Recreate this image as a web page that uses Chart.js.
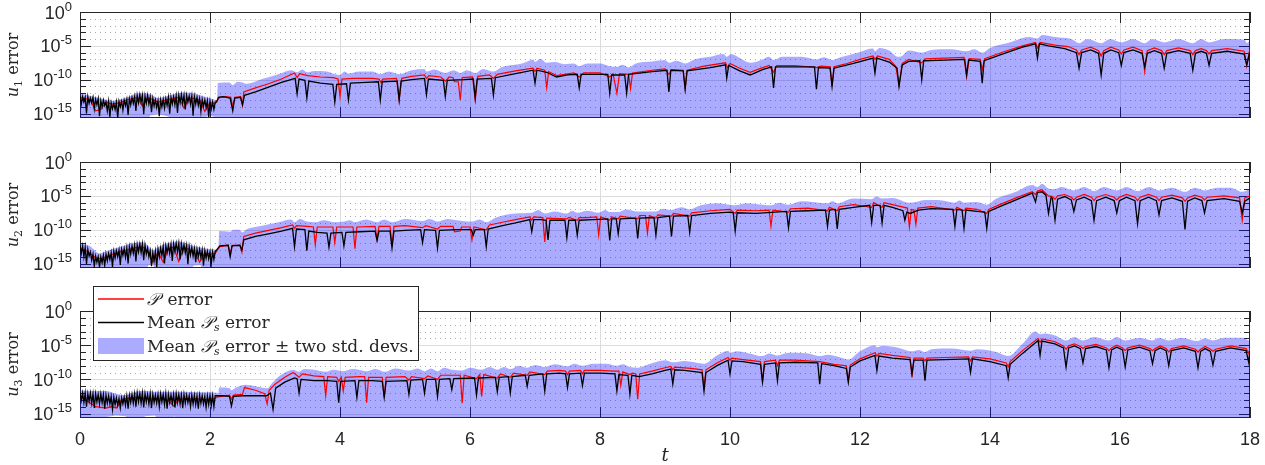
<!DOCTYPE html>
<html>
<head>
<meta charset="utf-8">
<title>Error growth of u1, u2, u3</title>
<script src="https://cdn.jsdelivr.net/npm/chart.js@4.4.1/dist/chart.umd.min.js"></script>
<style>
  html, body { margin: 0; padding: 0; background: #ffffff; }
  #wrap { position: relative; width: 1265px; height: 465px; }
  #wrap canvas { position: absolute; left: 0; top: 0; }
</style>
</head>
<body>
<div id="wrap">
  <canvas id="panel1" width="1265" height="465"></canvas>
  <canvas id="panel2" width="1265" height="465"></canvas>
  <canvas id="panel3" width="1265" height="465"></canvas>
</div>
<script>
// ---- axis ticks -------------------------------------------------------
const tTicks = [0, 2, 4, 6, 8, 10, 12, 14, 16, 18];
const decadeExps = [0, -1, -2, -3, -4, -5, -6, -7, -8, -9, -10, -11, -12, -13, -14, -15];
const yLabelExps = [0, -5, -10, -15];
const Y_MIN = 2.220446049250313e-16;   // eps
const Y_MAX = 1;

// Early times are sampled on a uniform grid (step in t); all values are log10 of the error.
const NOISE_STEP_MEAN = 0.02;
const NOISE_STEP_P = 0.08;

// ---- u1 ---------------------------------------------------------------
const u1MeanEarly = [-12.4,-13.6,-12.5,-13.3,-12.6,-15.0,-12.5,-13.5,-12.7,-13.4,-12.6,-14.3,-12.9,-13.7,-12.8,-15.4,-13.1,-14.0,-13.0,-13.8,-13.3,-14.6,-13.2,-15.5,-13.4,-14.3,-13.5,-14.4,-13.3,-15.6,-13.2,-14.0,-13.2,-14.5,-13.0,-13.8,-12.9,-15.2,-12.8,-13.7,-12.6,-13.5,-12.5,-14.6,-12.3,-13.4,-12.2,-13.3,-12.3,-15.1,-12.4,-13.5,-12.3,-13.6,-12.6,-14.8,-12.8,-13.9,-13.0,-14.1,-13.1,-15.4,-13.0,-14.0,-12.9,-14.2,-12.8,-13.8,-12.6,-15.0,-12.6,-13.6,-12.5,-13.7,-12.4,-14.9,-12.3,-13.4,-12.2,-13.5,-12.3,-14.4,-12.3,-13.3,-12.4,-13.6,-12.4,-15.3,-12.5,-13.6,-12.6,-13.8,-12.8,-14.7,-12.9,-13.9,-13.0,-14.1,-13.1,-15.5,-13.2,-14.3,-13.3,-14.4,-13.3];
const u1PEarly = [-12.6,-12.8,-13.0,-14.6,-14.4,-13.3,-13.6,-13.5,-13.3,-13.0,-12.8,-12.6,-13.9,-12.7,-12.9,-13.3,-13.1,-12.9,-12.8,-12.6,-14.2,-12.7,-12.8,-13.0,-14.7,-13.4,-13.5];
const u1Mean = [[2.10,-13.3],[2.13,-12.6],[2.2,-12.5],[2.31,-12.7],[2.35,-14.6],[2.38,-12.7],[2.47,-12.6],[2.50,-13.7],[2.53,-12.3],[2.7,-11.8],[2.9,-11.1],[3.1,-10.4],[3.31,-9.8],[3.34,-12.1],[3.37,-9.9],[3.46,-10.1],[3.49,-12.7],[3.52,-10.2],[3.7,-10.5],[3.89,-10.7],[3.92,-13.3],[3.95,-10.7],[4.1,-10.6],[4.13,-13.0],[4.16,-10.5],[4.4,-10.4],[4.59,-10.3],[4.62,-13.0],[4.65,-10.3],[4.88,-10.2],[4.91,-13.0],[4.94,-10.2],[5.1,-10.0],[5.3,-9.8],[5.33,-12.2],[5.36,-9.9],[5.59,-10.1],[5.62,-12.5],[5.65,-10.1],[5.9,-10.0],[6.05,-9.9],[6.08,-12.7],[6.11,-9.9],[6.33,-9.8],[6.36,-12.3],[6.39,-9.7],[6.7,-9.1],[6.97,-8.6],[7.0,-10.5],[7.03,-8.6],[7.18,-8.9],[7.33,-9.6],[7.5,-9.3],[7.65,-9.2],[7.68,-11.2],[7.71,-9.2],[8.12,-9.2],[8.15,-12.0],[8.18,-9.3],[8.38,-9.3],[8.41,-12.0],[8.44,-9.2],[8.8,-8.8],[9.03,-8.6],[9.06,-11.8],[9.09,-8.6],[9.28,-8.7],[9.31,-11.4],[9.34,-8.7],[9.7,-8.2],[9.93,-7.8],[9.95,-9.75],[9.98,-7.9],[10.15,-8.7],[10.31,-9.3],[10.5,-8.5],[10.64,-8.1],[10.67,-11.2],[10.7,-8.1],[11.3,-8.1],[11.33,-11.4],[11.36,-8.2],[11.54,-8.3],[11.57,-11.0],[11.6,-8.3],[11.9,-7.6],[12.2,-6.8],[12.23,-9.0],[12.26,-6.8],[12.45,-7.4],[12.57,-8.3],[12.6,-11.0],[12.65,-7.8],[12.75,-7.3],[12.92,-7.2],[12.95,-10.0],[12.98,-7.2],[13.3,-7.1],[13.61,-7.0],[13.64,-9.3],[13.67,-7.1],[13.85,-7.3],[13.88,-10.5],[13.91,-7.2],[14.2,-6.2],[14.5,-5.2],[14.7,-4.7],[14.73,-6.8],[14.76,-4.7],[14.9,-5.0],[15.15,-5.4],[15.33,-6.0],[15.37,-8.3],[15.41,-6.0],[15.55,-5.6],[15.67,-6.1],[15.71,-9.3],[15.75,-6.1],[15.86,-5.6],[15.98,-6.0],[16.02,-7.9],[16.06,-6.0],[16.2,-5.6],[16.34,-6.1],[16.38,-8.1],[16.42,-6.1],[16.53,-5.7],[16.64,-6.1],[16.68,-8.3],[16.72,-6.1],[16.9,-5.7],[17.08,-6.1],[17.12,-8.6],[17.16,-6.1],[17.25,-5.8],[17.33,-6.1],[17.37,-7.9],[17.41,-6.1],[17.65,-5.8],[17.91,-6.2],[17.95,-7.8],[17.99,-6.2],[18.0,-6.0]];
const u1P = [[2.10,-13.2],[2.15,-12.6],[2.25,-12.5],[2.32,-12.6],[2.35,-14.0],[2.38,-12.6],[2.47,-12.5],[2.50,-13.8],[2.52,-11.8],[2.7,-11.2],[2.9,-10.6],[3.1,-9.9],[3.3,-9.0],[3.34,-9.7],[3.38,-9.1],[3.5,-9.4],[3.7,-9.6],[3.9,-9.7],[3.97,-9.9],[4.0,-12.5],[4.03,-9.9],[4.2,-9.8],[4.5,-9.8],[4.6,-9.9],[4.63,-10.4],[4.66,-9.9],[4.87,-9.8],[4.91,-13.0],[4.95,-9.8],[5.1,-9.5],[5.3,-9.3],[5.33,-9.8],[5.37,-9.4],[5.55,-9.6],[5.62,-10.2],[5.68,-9.6],[5.74,-9.7],[5.76,-10.3],[5.82,-10.3],[5.85,-13.0],[5.88,-9.7],[6.04,-9.6],[6.08,-13.0],[6.12,-9.5],[6.3,-9.3],[6.36,-9.8],[6.42,-9.2],[6.7,-8.7],[6.97,-8.3],[7.0,-8.8],[7.03,-8.3],[7.15,-8.6],[7.18,-11.2],[7.21,-8.8],[7.33,-9.4],[7.6,-9.0],[7.68,-9.6],[7.75,-9.0],[8.0,-9.0],[8.15,-9.6],[8.2,-9.1],[8.26,-12.0],[8.3,-9.1],[8.44,-9.2],[8.47,-11.3],[8.5,-9.0],[8.8,-8.6],[9.0,-8.4],[9.06,-9.2],[9.1,-8.5],[9.28,-8.6],[9.31,-11.3],[9.34,-8.6],[9.6,-8.0],[9.93,-7.5],[9.96,-8.2],[10.0,-7.6],[10.15,-8.3],[10.31,-8.9],[10.45,-8.4],[10.6,-7.9],[10.67,-8.9],[10.72,-7.9],[11.0,-7.9],[11.33,-8.2],[11.4,-8.0],[11.54,-8.1],[11.57,-11.0],[11.6,-8.1],[11.8,-7.6],[12.0,-7.0],[12.2,-6.5],[12.23,-7.0],[12.27,-6.5],[12.45,-7.0],[12.55,-8.0],[12.6,-10.8],[12.65,-7.6],[12.75,-7.0],[12.95,-7.5],[13.0,-6.9],[13.3,-6.8],[13.6,-6.7],[13.64,-9.6],[13.68,-6.9],[13.85,-7.0],[13.88,-8.5],[13.92,-6.9],[14.2,-5.9],[14.5,-5.0],[14.7,-4.5],[14.73,-5.3],[14.77,-4.5],[15.0,-4.9],[15.2,-5.1],[15.33,-5.6],[15.37,-6.3],[15.41,-5.6],[15.55,-5.2],[15.67,-5.7],[15.71,-6.5],[15.75,-5.7],[15.86,-5.2],[15.98,-5.6],[16.02,-6.2],[16.06,-5.6],[16.2,-5.2],[16.34,-5.7],[16.38,-8.8],[16.42,-5.7],[16.53,-5.3],[16.64,-5.7],[16.68,-6.3],[16.72,-5.7],[16.9,-5.3],[17.08,-5.7],[17.12,-6.3],[17.16,-5.7],[17.25,-5.4],[17.33,-5.7],[17.37,-6.2],[17.41,-5.7],[17.65,-5.4],[17.91,-5.8],[17.95,-8.0],[17.99,-5.8],[18.0,-5.6]];
// [t, upper, lower] of the mean +/- two std. devs. band
const u1Band = [[0,-12.0,-17],[0.12,-12.3,-17],[0.25,-12.6,-17],[0.38,-12.9,-17],[0.5,-13.1,-17],[0.62,-12.9,-17],[0.75,-12.5,-17],[0.9,-12.0,-17],[1.0,-12.0,-17],[1.08,-12.1,-15.3],[1.2,-12.7,-15.1],[1.3,-12.5,-15.3],[1.38,-12.3,-15.5],[1.45,-12.1,-17],[1.6,-11.9,-17],[1.75,-12.0,-17],[1.85,-12.3,-17],[1.95,-12.6,-15.4],[2.05,-12.9,-15.4],[2.11,-13.0,-17],[2.12,-10.5,-17],[2.3,-10.4,-17],[2.35,-10.8,-17],[2.42,-10.3,-17],[2.5,-10.4,-17],[2.56,-10.6,-17],[2.8,-9.9,-17],[3.05,-9.2,-17],[3.25,-8.6,-17],[3.34,-8.9,-17],[3.42,-8.5,-17],[3.49,-8.9,-17],[3.6,-8.7,-17],[3.8,-8.8,-17],[3.92,-9.2,-17],[4.0,-9.3,-17],[4.07,-8.8,-17],[4.13,-9.1,-17],[4.3,-8.8,-17],[4.5,-8.8,-17],[4.62,-9.2,-17],[4.75,-8.8,-17],[4.91,-9.2,-17],[5.1,-8.6,-17],[5.3,-8.4,-17],[5.33,-8.8,-17],[5.45,-8.5,-17],[5.62,-9.0,-17],[5.75,-8.6,-17],[5.85,-9.0,-17],[5.95,-8.6,-17],[6.08,-9.0,-17],[6.2,-8.4,-17],[6.36,-8.8,-17],[6.5,-8.1,-17],[6.8,-7.6,-17],[6.98,-7.0,-17],[7.0,-7.4,-17],[7.08,-6.9,-17],[7.18,-7.5,-17],[7.3,-7.4,-17],[7.45,-7.7,-17],[7.6,-7.6,-17],[7.68,-8.0,-17],[7.8,-7.6,-17],[8.0,-7.6,-17],[8.15,-8.0,-17],[8.26,-8.1,-17],[8.35,-7.8,-17],[8.44,-8.2,-17],[8.55,-7.6,-17],[8.8,-7.3,-17],[9.0,-7.1,-17],[9.06,-7.5,-17],[9.18,-7.2,-17],[9.31,-7.6,-17],[9.45,-7.0,-17],[9.7,-6.6,-17],[9.9,-6.2,-17],[9.95,-6.6,-17],[10.02,-6.2,-17],[10.15,-6.8,-17],[10.31,-7.5,-17],[10.5,-7.0,-17],[10.6,-6.6,-17],[10.67,-7.1,-17],[10.8,-6.6,-17],[11.1,-6.6,-17],[11.33,-7.0,-17],[11.45,-6.7,-17],[11.57,-7.1,-17],[11.7,-6.7,-17],[12.0,-5.9,-17],[12.2,-5.4,-17],[12.23,-5.8,-17],[12.3,-5.3,-17],[12.45,-5.7,-17],[12.58,-6.6,-17],[12.62,-6.6,-17],[12.75,-5.7,-17],[12.95,-6.0,-17],[13.1,-5.6,-17],[13.4,-5.5,-17],[13.64,-5.8,-17],[13.76,-5.5,-17],[13.88,-6.0,-17],[14.0,-5.3,-17],[14.3,-4.5,-17],[14.6,-3.7,-17],[14.73,-3.9,-17],[14.8,-3.4,-17],[15.0,-3.7,-17],[15.25,-4.0,-17],[15.37,-4.6,-17],[15.5,-4.0,-17],[15.71,-4.6,-17],[15.85,-4.0,-17],[16.02,-4.5,-17],[16.2,-4.0,-17],[16.38,-4.6,-17],[16.5,-4.0,-17],[16.68,-4.5,-17],[16.9,-4.0,-17],[17.12,-4.6,-17],[17.25,-4.0,-17],[17.37,-4.5,-17],[17.6,-4.0,-17],[17.92,-4.1,-17],[17.95,-4.6,-17],[18.0,-4.3,-17]];

// ---- u2 ---------------------------------------------------------------
const u2MeanEarly = [-12.3,-13.5,-12.4,-14.0,-12.6,-15.1,-12.9,-13.9,-13.3,-14.5,-13.6,-15.4,-13.9,-14.8,-14.0,-15.5,-14.0,-14.9,-13.8,-15.3,-13.6,-14.6,-13.5,-14.4,-13.4,-15.5,-13.2,-14.2,-13.1,-14.0,-13.0,-15.2,-12.9,-13.8,-12.8,-14.1,-12.7,-15.0,-12.5,-13.6,-12.4,-13.5,-12.3,-14.7,-12.2,-13.3,-12.1,-13.4,-12.1,-14.5,-12.3,-13.6,-12.7,-14.0,-13.1,-15.4,-13.4,-14.6,-13.2,-15.5,-12.9,-14.0,-12.7,-13.8,-12.5,-15.0,-12.4,-13.4,-12.3,-13.5,-12.2,-14.6,-12.1,-13.2,-12.0,-13.3,-12.0,-14.4,-12.1,-13.3,-12.2,-13.4,-12.3,-15.1,-12.5,-13.7,-12.6,-13.9,-12.8,-14.8,-12.9,-14.0,-12.9,-14.1,-13.0,-15.3,-13.1,-14.2,-13.2,-14.3,-13.3,-15.0,-13.3,-14.4,-13.2];
const u2PEarly = [-12.8,-13.0,-13.6,-14.1,-14.3,-14.0,-13.7,-13.4,-13.2,-13.0,-12.8,-12.6,-12.5,-13.2,-14.8,-13.3,-14.8,-12.8,-12.6,-14.7,-12.6,-12.9,-13.2,-14.8,-13.4,-13.6,-13.5];
const u2Mean = [[2.10,-13.0],[2.15,-12.4],[2.28,-12.3],[2.31,-14.0],[2.34,-12.4],[2.46,-12.3],[2.49,-13.0],[2.52,-11.5],[2.7,-11.0],[2.9,-10.6],[3.1,-10.2],[3.27,-9.8],[3.30,-12.5],[3.33,-9.9],[3.46,-10.0],[3.49,-13.1],[3.52,-10.2],[3.65,-10.4],[3.80,-10.5],[3.83,-12.6],[3.86,-10.5],[4.03,-10.4],[4.06,-12.4],[4.09,-10.4],[4.3,-10.3],[4.54,-10.2],[4.57,-11.6],[4.6,-10.2],[4.77,-10.2],[4.80,-12.7],[4.83,-10.2],[5.0,-10.1],[5.24,-10.0],[5.27,-11.9],[5.30,-10.0],[5.47,-10.1],[5.50,-12.7],[5.53,-10.1],[5.8,-10.0],[6.02,-10.0],[6.05,-10.8],[6.08,-10.0],[6.22,-10.0],[6.25,-12.5],[6.28,-9.9],[6.5,-9.4],[6.7,-9.0],[6.92,-8.5],[6.95,-10.3],[6.98,-8.5],[7.1,-8.5],[7.17,-8.6],[7.2,-11.5],[7.23,-8.6],[7.46,-8.6],[7.49,-11.2],[7.52,-8.6],[7.62,-8.6],[7.65,-10.8],[7.68,-8.6],[7.9,-8.5],[8.12,-8.4],[8.15,-11.6],[8.18,-8.4],[8.25,-8.4],[8.28,-10.6],[8.31,-8.4],[8.55,-8.3],[8.58,-11.3],[8.61,-8.3],[8.83,-8.2],[8.86,-10.8],[8.89,-8.2],[9.07,-8.0],[9.1,-11.0],[9.13,-8.0],[9.35,-7.9],[9.38,-10.4],[9.41,-7.9],[9.7,-7.6],[10.0,-7.4],[10.05,-7.5],[10.08,-10.2],[10.11,-7.5],[10.4,-7.6],[10.87,-7.3],[10.9,-9.7],[10.93,-7.3],[11.2,-7.2],[11.47,-7.1],[11.5,-9.5],[11.53,-7.1],[11.62,-7.0],[11.65,-9.9],[11.68,-7.0],[11.9,-6.7],[12.15,-6.4],[12.18,-8.9],[12.21,-6.4],[12.31,-6.4],[12.34,-9.0],[12.37,-6.4],[12.5,-6.7],[12.66,-7.2],[12.69,-8.6],[12.72,-7.4],[12.77,-7.6],[12.9,-7.1],[13.1,-6.9],[13.43,-7.0],[13.46,-9.5],[13.49,-7.0],[13.57,-7.1],[13.6,-9.8],[13.63,-7.1],[13.8,-7.3],[13.92,-7.4],[13.95,-9.8],[13.98,-7.3],[14.15,-6.6],[14.4,-5.6],[14.65,-4.6],[14.7,-5.9],[14.73,-4.5],[14.8,-4.4],[14.86,-4.9],[14.9,-7.6],[14.94,-5.2],[14.96,-5.4],[15.0,-8.6],[15.04,-5.5],[15.15,-5.1],[15.25,-5.6],[15.29,-7.3],[15.33,-5.6],[15.45,-5.2],[15.56,-5.7],[15.6,-8.6],[15.64,-5.7],[15.78,-5.2],[15.91,-5.7],[15.95,-7.5],[15.99,-5.7],[16.1,-5.2],[16.23,-5.7],[16.27,-9.1],[16.31,-5.7],[16.44,-5.2],[16.56,-5.7],[16.6,-7.8],[16.64,-5.7],[16.8,-5.3],[16.96,-5.8],[17.0,-9.95],[17.04,-5.8],[17.15,-5.3],[17.26,-5.7],[17.3,-7.5],[17.34,-5.7],[17.6,-5.4],[17.84,-5.8],[17.88,-7.5],[17.92,-5.8],[18.0,-5.3]];
const u2P = [[2.10,-13.2],[2.15,-12.5],[2.28,-12.3],[2.31,-13.6],[2.34,-12.3],[2.46,-12.3],[2.49,-13.3],[2.52,-11.0],[2.7,-10.5],[2.9,-10.1],[3.1,-9.7],[3.27,-9.3],[3.30,-9.8],[3.33,-9.4],[3.5,-9.5],[3.59,-9.6],[3.62,-12.25],[3.65,-9.6],[3.8,-9.6],[3.89,-9.6],[3.92,-11.9],[3.95,-9.6],[4.1,-9.6],[4.2,-9.6],[4.23,-12.8],[4.26,-9.6],[4.54,-9.5],[4.57,-11.4],[4.6,-9.5],[4.77,-9.5],[4.80,-12.4],[4.83,-9.5],[5.0,-9.4],[5.27,-9.7],[5.32,-9.4],[5.50,-9.9],[5.55,-9.5],[5.74,-9.5],[5.76,-10.3],[5.85,-10.2],[5.87,-9.6],[6.0,-9.6],[6.03,-11.5],[6.06,-9.6],[6.25,-10.0],[6.3,-9.3],[6.5,-8.9],[6.7,-8.5],[6.92,-8.1],[6.95,-8.6],[6.98,-8.1],[7.12,-8.2],[7.15,-11.8],[7.18,-8.3],[7.49,-8.4],[7.52,-8.2],[7.65,-8.6],[7.68,-8.2],[7.8,-8.2],[7.95,-8.1],[7.98,-10.8],[8.01,-8.1],[8.15,-8.6],[8.18,-8.1],[8.28,-8.4],[8.31,-8.0],[8.58,-8.4],[8.61,-7.9],[8.7,-7.9],[8.73,-10.5],[8.76,-7.9],[8.86,-8.3],[8.89,-7.8],[9.1,-8.0],[9.13,-7.6],[9.38,-8.0],[9.41,-7.5],[9.7,-7.2],[10.0,-7.0],[10.08,-7.6],[10.11,-7.1],[10.4,-7.2],[10.6,-7.1],[10.63,-9.5],[10.66,-7.1],[10.9,-7.4],[10.93,-6.9],[11.2,-6.8],[11.5,-7.2],[11.53,-6.7],[11.65,-7.2],[11.68,-6.6],[11.9,-6.3],[12.18,-6.7],[12.21,-6.0],[12.34,-6.7],[12.37,-6.0],[12.5,-6.3],[12.73,-6.8],[12.76,-9.6],[12.79,-7.0],[12.83,-7.1],[12.86,-9.2],[12.89,-6.8],[13.1,-6.6],[13.46,-7.1],[13.49,-6.7],[13.6,-7.2],[13.63,-6.8],[13.8,-7.0],[13.95,-7.6],[13.98,-7.0],[14.15,-6.3],[14.4,-5.3],[14.65,-4.4],[14.7,-4.8],[14.73,-4.3],[14.8,-4.1],[14.9,-5.0],[14.96,-5.1],[15.0,-5.5],[15.04,-5.0],[15.15,-4.8],[15.25,-5.2],[15.29,-5.6],[15.33,-5.2],[15.45,-4.8],[15.56,-5.2],[15.6,-5.7],[15.64,-5.2],[15.78,-4.8],[15.91,-5.2],[15.95,-5.6],[15.99,-5.2],[16.1,-4.8],[16.23,-5.2],[16.27,-5.7],[16.31,-5.2],[16.44,-4.8],[16.56,-5.2],[16.6,-5.7],[16.64,-5.2],[16.8,-4.9],[16.96,-5.3],[17.0,-5.8],[17.04,-5.3],[17.15,-4.9],[17.26,-5.2],[17.3,-5.6],[17.34,-5.2],[17.6,-5.0],[17.84,-5.3],[17.88,-8.6],[17.92,-5.3],[18.0,-5.0]];
const u2Band = [[0,-12.0,-17],[0.15,-12.4,-17],[0.3,-13.5,-17],[0.45,-13.0,-17],[0.6,-12.6,-17],[0.8,-12.0,-17],[0.96,-11.8,-17],[1.05,-12.4,-15.3],[1.12,-13.0,-15.1],[1.2,-12.6,-17],[1.3,-12.1,-15.4],[1.4,-11.9,-17],[1.5,-11.7,-17],[1.6,-11.9,-17],[1.75,-12.4,-15.3],[1.85,-12.6,-15.2],[1.95,-12.8,-17],[2.05,-12.9,-17],[2.13,-13.0,-17],[2.14,-10.2,-17],[2.31,-10.3,-17],[2.36,-10.0,-17],[2.45,-10.0,-17],[2.5,-10.4,-17],[2.55,-10.0,-17],[2.8,-9.4,-17],[3.05,-8.9,-17],[3.25,-8.5,-17],[3.30,-8.9,-17],[3.38,-8.4,-17],[3.49,-8.8,-17],[3.62,-8.9,-17],[3.75,-8.6,-17],[3.92,-8.9,-17],[4.06,-8.8,-17],[4.15,-8.6,-17],[4.23,-8.9,-17],[4.4,-8.5,-17],[4.57,-8.9,-17],[4.68,-8.5,-17],[4.80,-8.9,-17],[5.0,-8.4,-17],[5.27,-8.7,-17],[5.38,-8.4,-17],[5.50,-8.8,-17],[5.65,-8.4,-17],[5.8,-8.6,-17],[6.03,-8.8,-17],[6.15,-8.5,-17],[6.25,-8.9,-17],[6.4,-8.2,-17],[6.7,-7.6,-17],[6.95,-7.5,-17],[7.05,-7.1,-17],[7.15,-7.6,-17],[7.3,-7.3,-17],[7.49,-7.6,-17],[7.57,-7.2,-17],[7.65,-7.5,-17],[7.8,-7.2,-17],[7.98,-7.5,-17],[8.08,-7.1,-17],[8.15,-7.4,-17],[8.28,-7.4,-17],[8.4,-7.0,-17],[8.58,-7.3,-17],[8.73,-7.3,-17],[8.86,-7.3,-17],[8.97,-6.9,-17],[9.1,-7.1,-17],[9.25,-6.7,-17],[9.38,-7.0,-17],[9.55,-6.4,-17],[9.8,-6.1,-17],[10.08,-6.4,-17],[10.25,-6.1,-17],[10.4,-6.2,-17],[10.63,-6.4,-17],[10.75,-6.0,-17],[10.9,-6.3,-17],[11.1,-5.8,-17],[11.5,-6.1,-17],[11.58,-5.8,-17],[11.65,-6.1,-17],[11.9,-5.4,-17],[12.18,-5.5,-17],[12.25,-5.1,-17],[12.34,-5.4,-17],[12.5,-5.3,-17],[12.76,-6.0,-17],[12.86,-5.9,-17],[13.0,-5.6,-17],[13.2,-5.6,-17],[13.46,-6.0,-17],[13.53,-5.7,-17],[13.6,-6.0,-17],[13.8,-5.9,-17],[13.95,-6.3,-17],[14.1,-5.4,-17],[14.4,-4.4,-17],[14.65,-3.4,-17],[14.73,-3.7,-17],[14.8,-3.2,-17],[14.9,-3.9,-17],[15.0,-4.0,-17],[15.1,-3.7,-17],[15.29,-4.2,-17],[15.45,-3.7,-17],[15.6,-4.3,-17],[15.75,-3.7,-17],[15.95,-4.2,-17],[16.1,-3.7,-17],[16.27,-4.3,-17],[16.45,-3.7,-17],[16.6,-4.2,-17],[16.8,-3.8,-17],[17.0,-4.4,-17],[17.15,-3.8,-17],[17.3,-4.2,-17],[17.5,-3.8,-17],[17.7,-3.8,-17],[17.88,-4.4,-17],[18.0,-4.0,-17]];

// ---- u3 ---------------------------------------------------------------
const u3MeanEarly = [-11.9,-13.1,-12.0,-13.4,-12.0,-14.0,-12.1,-13.2,-12.0,-13.5,-12.1,-14.2,-12.1,-13.3,-12.2,-13.6,-12.1,-13.4,-12.2,-14.3,-12.3,-13.5,-12.4,-13.6,-12.5,-14.4,-12.6,-13.7,-12.7,-13.8,-12.8,-14.2,-12.7,-13.6,-12.6,-13.8,-12.4,-14.3,-12.3,-13.4,-12.2,-13.5,-12.1,-14.0,-12.0,-13.3,-12.1,-13.5,-12.0,-14.1,-12.1,-13.3,-12.2,-13.6,-12.1,-14.2,-12.2,-13.4,-12.3,-13.5,-12.2,-14.0,-12.1,-13.3,-12.2,-13.7,-12.1,-14.3,-12.2,-13.4,-12.3,-13.5,-12.2,-14.1,-12.1,-13.4,-12.2,-13.6,-12.3,-14.2,-12.2,-13.5,-12.3,-13.4,-12.4,-14.0,-12.3,-13.6,-12.3,-13.7,-12.4,-14.3,-12.3,-13.5,-12.4,-13.6,-12.5,-14.1,-12.4,-13.7,-12.4,-13.8,-12.4,-14.0,-12.4];
const u3PEarly = [-12.6,-12.9,-13.5,-14.0,-14.1,-14.2,-14.0,-14.2,-13.0,-12.8,-12.7,-12.6,-12.7,-12.8,-12.9,-12.8,-12.9,-13.1,-13.9,-13.0,-12.8,-12.9,-12.8,-12.9,-13.0,-12.9,-12.8];
const u3Mean = [[2.10,-12.4],[2.2,-12.4],[2.30,-12.5],[2.33,-13.9],[2.36,-12.5],[2.5,-12.4],[2.7,-12.4],[2.87,-12.4],[2.93,-12.0],[2.97,-14.4],[3.01,-11.3],[3.15,-10.4],[3.3,-9.8],[3.34,-9.9],[3.37,-12.0],[3.40,-10.0],[3.6,-10.2],[3.8,-10.2],[3.95,-10.3],[3.98,-13.4],[4.01,-10.3],[4.23,-10.2],[4.26,-12.65],[4.29,-10.2],[4.5,-10.2],[4.65,-10.3],[4.68,-12.65],[4.71,-10.3],[5.03,-10.2],[5.06,-12.2],[5.09,-10.1],[5.27,-10.0],[5.30,-12.0],[5.33,-10.0],[5.47,-10.0],[5.50,-12.5],[5.53,-10.0],[5.69,-9.9],[5.72,-11.5],[5.75,-9.9],[6.07,-9.8],[6.10,-12.3],[6.13,-9.8],[6.39,-9.7],[6.42,-11.8],[6.45,-9.7],[6.59,-9.6],[6.62,-12.0],[6.65,-9.6],[6.85,-9.4],[6.88,-11.0],[6.91,-9.4],[7.12,-9.2],[7.15,-11.7],[7.18,-9.2],[7.38,-9.1],[7.47,-9.2],[7.5,-11.2],[7.53,-9.2],[7.7,-9.1],[7.73,-10.9],[7.76,-9.1],[8.0,-9.1],[8.23,-9.2],[8.26,-11.7],[8.29,-9.3],[8.43,-9.4],[8.46,-12.2],[8.49,-9.4],[8.6,-9.6],[8.8,-9.2],[9.0,-8.7],[9.09,-8.5],[9.12,-10.7],[9.15,-8.6],[9.3,-8.7],[9.57,-9.0],[9.6,-11.7],[9.63,-9.0],[9.8,-8.0],[9.97,-7.2],[10.0,-9.2],[10.03,-7.3],[10.2,-7.4],[10.47,-7.8],[10.5,-10.4],[10.53,-7.8],[10.7,-7.6],[10.73,-10.2],[10.76,-7.6],[11.0,-7.5],[11.35,-7.6],[11.38,-10.7],[11.41,-7.7],[11.6,-8.0],[11.79,-8.4],[11.82,-10.4],[11.85,-8.2],[12.0,-7.3],[12.23,-6.5],[12.26,-8.7],[12.29,-6.6],[12.5,-6.9],[12.77,-7.1],[12.8,-9.2],[12.83,-7.2],[12.97,-7.2],[13.0,-10.2],[13.03,-7.2],[13.3,-7.1],[13.67,-7.0],[13.7,-9.0],[13.73,-7.0],[14.0,-7.4],[14.25,-8.0],[14.28,-9.8],[14.31,-7.8],[14.5,-6.2],[14.74,-4.3],[14.77,-6.5],[14.8,-4.4],[15.0,-4.8],[15.13,-5.4],[15.17,-8.2],[15.21,-5.4],[15.3,-5.1],[15.39,-5.5],[15.43,-7.6],[15.47,-5.5],[15.63,-5.2],[15.79,-5.7],[15.83,-8.3],[15.87,-5.7],[15.95,-5.3],[16.04,-5.7],[16.08,-8.2],[16.12,-5.7],[16.3,-5.3],[16.46,-5.8],[16.5,-7.7],[16.54,-5.8],[16.62,-5.4],[16.71,-5.8],[16.75,-8.0],[16.79,-5.8],[16.98,-5.4],[17.16,-5.9],[17.2,-8.3],[17.24,-5.9],[17.31,-5.5],[17.39,-5.9],[17.43,-7.9],[17.47,-5.9],[17.7,-5.4],[17.94,-5.8],[17.98,-7.5],[18.0,-5.8]];
const u3P = [[2.10,-12.6],[2.3,-12.3],[2.33,-12.9],[2.36,-12.3],[2.5,-12.2],[2.53,-11.2],[2.7,-11.6],[2.84,-12.1],[2.88,-13.6],[2.91,-11.6],[3.0,-10.7],[3.15,-9.7],[3.28,-9.0],[3.37,-9.7],[3.42,-9.2],[3.6,-9.5],[3.75,-9.6],[3.78,-12.4],[3.81,-9.6],[3.95,-9.7],[3.98,-10.3],[4.02,-9.7],[4.05,-11.7],[4.08,-9.7],[4.3,-9.6],[4.38,-9.6],[4.41,-13.4],[4.44,-9.7],[4.65,-9.7],[4.68,-12.65],[4.71,-9.7],[5.0,-9.6],[5.06,-10.1],[5.1,-9.6],[5.3,-9.9],[5.35,-9.5],[5.50,-10.0],[5.55,-9.4],[5.85,-9.4],[5.88,-13.5],[5.91,-9.4],[6.10,-9.9],[6.15,-9.3],[6.18,-12.5],[6.21,-9.3],[6.42,-9.8],[6.47,-9.2],[6.62,-9.7],[6.67,-9.1],[6.88,-9.4],[6.92,-8.9],[7.15,-9.3],[7.19,-8.8],[7.38,-8.7],[7.47,-8.8],[7.5,-9.3],[7.53,-8.8],[7.7,-8.7],[7.73,-9.2],[7.76,-8.7],[8.0,-8.7],[8.2,-8.8],[8.29,-8.8],[8.32,-10.9],[8.35,-8.9],[8.46,-9.3],[8.5,-9.1],[8.55,-9.2],[8.58,-12.9],[8.61,-9.2],[8.8,-8.8],[9.0,-8.3],[9.09,-8.1],[9.12,-8.6],[9.15,-8.2],[9.4,-8.4],[9.57,-8.6],[9.6,-11.2],[9.63,-8.6],[9.8,-7.6],[9.97,-6.8],[10.0,-7.2],[10.03,-6.9],[10.2,-7.1],[10.47,-7.4],[10.5,-10.4],[10.53,-7.4],[10.7,-7.2],[10.73,-8.0],[10.76,-7.2],[11.0,-7.2],[11.38,-7.4],[11.6,-7.8],[11.79,-8.0],[11.82,-10.2],[11.85,-7.9],[12.0,-7.0],[12.23,-6.1],[12.26,-6.6],[12.29,-6.2],[12.5,-6.5],[12.77,-6.8],[12.8,-9.7],[12.83,-6.9],[12.97,-6.9],[13.0,-7.3],[13.03,-6.9],[13.3,-6.8],[13.67,-6.7],[13.7,-7.3],[13.73,-6.7],[14.0,-7.0],[14.25,-7.6],[14.28,-8.2],[14.31,-7.4],[14.5,-5.8],[14.74,-4.0],[14.77,-4.6],[14.8,-4.1],[15.0,-4.5],[15.13,-5.1],[15.17,-5.6],[15.21,-5.1],[15.3,-4.8],[15.39,-5.2],[15.43,-5.5],[15.47,-5.2],[15.63,-4.9],[15.79,-5.4],[15.83,-5.8],[15.87,-5.4],[15.95,-5.0],[16.04,-5.4],[16.08,-5.8],[16.12,-5.4],[16.3,-5.0],[16.46,-5.5],[16.5,-5.8],[16.54,-5.5],[16.62,-5.1],[16.71,-5.5],[16.75,-6.0],[16.79,-5.5],[16.98,-5.1],[17.16,-5.6],[17.2,-6.0],[17.24,-5.6],[17.31,-5.2],[17.39,-5.6],[17.43,-5.9],[17.47,-5.6],[17.7,-5.1],[17.94,-5.5],[17.98,-6.2],[18.0,-5.5]];
const u3Band = [[0,-11.6,-17],[0.2,-11.7,-17],[0.4,-11.7,-15.5],[0.55,-12.1,-15.3],[0.7,-12.3,-15.4],[0.85,-11.8,-17],[1.0,-11.7,-15.4],[1.15,-11.8,-15.3],[1.3,-11.8,-17],[1.45,-11.8,-15.4],[1.6,-11.8,-17],[1.8,-11.9,-17],[2.0,-11.9,-17],[2.13,-12.0,-17],[2.14,-11.2,-17],[2.3,-11.3,-17],[2.33,-11.6,-17],[2.4,-11.2,-17],[2.55,-10.8,-17],[2.7,-11.0,-17],[2.88,-11.3,-17],[2.95,-10.6,-17],[3.1,-9.3,-17],[3.28,-8.6,-17],[3.37,-8.9,-17],[3.45,-8.5,-17],[3.6,-8.6,-17],[3.78,-8.9,-17],[3.9,-8.6,-17],[4.05,-8.8,-17],[4.2,-8.5,-17],[4.41,-8.8,-17],[4.55,-8.5,-17],[4.68,-8.9,-17],[4.85,-8.4,-17],[5.06,-8.7,-17],[5.2,-8.4,-17],[5.3,-8.8,-17],[5.4,-8.4,-17],[5.5,-8.8,-17],[5.6,-8.3,-17],[5.72,-8.6,-17],[5.88,-8.7,-17],[6.0,-8.3,-17],[6.18,-8.6,-17],[6.3,-8.2,-17],[6.42,-8.6,-17],[6.52,-8.2,-17],[6.62,-8.5,-17],[6.75,-8.0,-17],[6.88,-8.3,-17],[7.0,-7.9,-17],[7.15,-8.2,-17],[7.3,-7.8,-17],[7.5,-8.1,-17],[7.6,-7.7,-17],[7.73,-8.0,-17],[7.9,-7.7,-17],[8.1,-7.7,-17],[8.26,-8.0,-17],[8.35,-7.8,-17],[8.46,-8.2,-17],[8.58,-8.3,-17],[8.75,-7.8,-17],[9.0,-7.2,-17],[9.12,-7.5,-17],[9.3,-7.3,-17],[9.6,-7.7,-17],[9.8,-6.5,-17],[9.97,-5.8,-17],[10.0,-6.1,-17],[10.1,-5.9,-17],[10.3,-6.2,-17],[10.5,-6.6,-17],[10.6,-6.2,-17],[10.73,-6.5,-17],[10.9,-6.1,-17],[11.2,-6.2,-17],[11.38,-6.6,-17],[11.5,-6.4,-17],[11.7,-6.8,-17],[11.82,-7.1,-17],[12.0,-5.9,-17],[12.23,-5.0,-17],[12.26,-5.3,-17],[12.35,-5.1,-17],[12.6,-5.4,-17],[12.8,-5.9,-17],[12.9,-5.7,-17],[13.0,-6.0,-17],[13.1,-5.6,-17],[13.4,-5.5,-17],[13.7,-5.8,-17],[13.8,-5.6,-17],[14.1,-6.0,-17],[14.28,-6.6,-17],[14.5,-4.8,-17],[14.7,-3.0,-17],[14.77,-3.4,-17],[14.85,-3.3,-17],[15.0,-3.6,-17],[15.17,-4.3,-17],[15.3,-3.8,-17],[15.43,-4.3,-17],[15.6,-3.8,-17],[15.83,-4.3,-17],[15.95,-3.8,-17],[16.08,-4.3,-17],[16.3,-3.9,-17],[16.5,-4.3,-17],[16.6,-3.9,-17],[16.75,-4.3,-17],[16.95,-3.9,-17],[17.2,-4.4,-17],[17.3,-4.0,-17],[17.43,-4.3,-17],[17.6,-3.9,-17],[17.9,-3.9,-17],[17.98,-4.3,-17],[18.0,-4.1,-17]];

// ---- drawing helpers --------------------------------------------------
const INK = '#262626';
const SANS = '"Liberation Sans", Arial, Helvetica, sans-serif';
const SERIF = '"DejaVu Serif", "Liberation Serif", serif';
const BAND_FILL = 'rgba(0, 0, 255, 0.33)';

const fromLog = e => 10 ** e;
const pairsToPoints = pairs => pairs.map(([t, e]) => ({ x: t, y: fromLog(e) }));
const sampledToPoints = (vals, step, tEnd) =>
  vals.map((e, i) => ({ x: +(i * step).toFixed(3), y: fromLog(e) })).filter(p => p.x < tEnd);

function richWidth(ctx, parts) {
  let w = 0;
  for (const p of parts) { ctx.font = p.font; w += ctx.measureText(p.text).width + (p.dx || 0); }
  return w;
}
function drawRich(ctx, parts, x, y) {
  let cx = x;
  for (const p of parts) {
    ctx.font = p.font;
    ctx.fillText(p.text, cx, y + (p.dy || 0));
    cx += ctx.measureText(p.text).width + (p.dx || 0);
  }
  return cx;
}
function hLine(ctx, x0, x1, y) { ctx.beginPath(); ctx.moveTo(x0, y); ctx.lineTo(x1, y); ctx.stroke(); }
function vLine(ctx, x, y0, y1) { ctx.beginPath(); ctx.moveTo(x, y0); ctx.lineTo(x, y1); ctx.stroke(); }

// Box, grid and inward tick marks, drawn under the data.
const axesFrame = {
  id: 'axesFrame',
  beforeDatasetsDraw(chart) {
    const { ctx, chartArea: a } = chart;
    const xs = chart.scales.x, ys = chart.scales.y;
    ctx.save();
    ctx.lineWidth = 1;
    ctx.strokeStyle = '#a9a9a9';
    ctx.setLineDash([1, 4]);
    for (const e of decadeExps) {
      if (e % 5 === 0) continue;
      hLine(ctx, a.left, a.right, Math.round(ys.getPixelForValue(fromLog(e))) + 0.5);
    }
    ctx.setLineDash([]);
    ctx.strokeStyle = '#dcdcdc';
    for (const e of yLabelExps) {
      if (e === 0) continue;
      hLine(ctx, a.left, a.right, Math.round(ys.getPixelForValue(fromLog(e))) + 0.5);
    }
    for (const t of tTicks) {
      if (t === tTicks[0] || t === tTicks[tTicks.length - 1]) continue;
      vLine(ctx, Math.round(xs.getPixelForValue(t)) + 0.5, a.top, a.bottom);
    }
    ctx.strokeStyle = INK;
    for (const e of decadeExps) {
      const py = Math.round(ys.getPixelForValue(fromLog(e))) + 0.5;
      const len = e % 5 === 0 ? 11 : 6;
      hLine(ctx, a.left, a.left + len, py);
      hLine(ctx, a.right - len, a.right, py);
    }
    for (const t of tTicks) {
      const px = Math.round(xs.getPixelForValue(t)) + 0.5;
      vLine(ctx, px, a.top, a.top + 11);
      vLine(ctx, px, a.bottom - 11, a.bottom);
    }
    ctx.strokeRect(a.left + 0.5, a.top + 0.5, a.right - a.left - 1, a.bottom - a.top - 1);
    ctx.restore();
  },
  afterDraw(chart) {
    const { ctx, chartArea: a } = chart;
    const ys = chart.scales.y;
    ctx.save();
    ctx.fillStyle = INK;
    ctx.textAlign = 'left';
    ctx.textBaseline = 'alphabetic';
    for (const e of yLabelExps) {
      const py = ys.getPixelForValue(fromLog(e));
      const exp = e === 0 ? '0' : '-' + Math.abs(e);
      const parts = [
        { text: '10', font: `18px ${SANS}` },
        { text: exp, font: `13px ${SANS}`, dy: -8 }
      ];
      drawRich(ctx, parts, 72 - richWidth(ctx, parts), py + 6.5);
    }
    const idx = chart.options.plugins.axesFrame.component;
    ctx.translate(18, (a.top + a.bottom) / 2);
    ctx.rotate(-Math.PI / 2);
    const name = [
      { text: 'u', font: `italic 16px ${SERIF}` },
      { text: String(idx), font: `11px ${SERIF}`, dy: 4 },
      { text: ' error', font: `16px ${SERIF}` }
    ];
    drawRich(ctx, name, -richWidth(ctx, name) / 2, 0);
    ctx.restore();
  }
};

// Legend box and the time label under the bottom panel.
const legendBox = {
  id: 'legendBox',
  afterDraw(chart) {
    const { ctx, chartArea: a } = chart;
    ctx.save();
    const L = a.left + 13, T = a.top - 25, W = 325, H = 74;
    ctx.fillStyle = '#ffffff';
    ctx.fillRect(L, T, W, H);
    ctx.strokeStyle = INK;
    ctx.lineWidth = 1;
    ctx.strokeRect(L + 0.5, T + 0.5, W, H);

    const sx0 = L + 5, sx1 = L + 51, tx = L + 54;
    ctx.lineWidth = 1.3;
    ctx.strokeStyle = '#ff0000';
    hLine(ctx, sx0, sx1, T + 13);
    ctx.strokeStyle = '#000000';
    hLine(ctx, sx0, sx1, T + 36.5);
    ctx.fillStyle = BAND_FILL;
    ctx.fillRect(sx0, T + 52, sx1 - sx0, 16);

    ctx.fillStyle = INK;
    ctx.textAlign = 'left';
    ctx.textBaseline = 'alphabetic';
    const rm = `17px ${SERIF}`, it = `italic 17px ${SERIF}`, sub = `italic 11px ${SERIF}`;
    drawRich(ctx, [{ text: '𝒫', font: it, dx: 3 }, { text: ' error', font: rm }], tx, T + 19);
    drawRich(ctx, [{ text: 'Mean ', font: rm }, { text: '𝒫', font: it, dx: 1 }, { text: 's', font: sub, dy: 3 }, { text: ' error', font: rm }], tx, T + 42);
    drawRich(ctx, [{ text: 'Mean ', font: rm }, { text: '𝒫', font: it, dx: 1 }, { text: 's', font: sub, dy: 3 }, { text: ' error ± two std. devs.', font: rm }], tx, T + 66);

    ctx.font = `italic 18px ${SERIF}`;
    ctx.textAlign = 'center';
    ctx.fillText('t', (a.left + a.right) / 2, 461);
    ctx.restore();
  }
};

function makePanel(canvasId, component, mean, meanEarly, p, pEarly, band, top, bottom, isLast) {
  const xAxisH = isLast ? 47 : 0;
  const padBottom = 465 - bottom - xAxisH;
  const meanPts = sampledToPoints(meanEarly, NOISE_STEP_MEAN, mean[0][0]).concat(pairsToPoints(mean));
  const pPts = sampledToPoints(pEarly, NOISE_STEP_P, p[0][0]).concat(pairsToPoints(p));
  const bandHi = band.map(([t, hi]) => ({ x: t, y: fromLog(hi) }));
  const bandLo = band.map(([t, , lo]) => ({ x: t, y: fromLog(lo) }));
  return new Chart(document.getElementById(canvasId), {
    type: 'line',
    data: {
      datasets: [
        { label: 'Mean Ps error', data: meanPts, borderColor: '#000000', borderWidth: 1.3, fill: false, parsing: false, normalized: true },
        { label: 'P error', data: pPts, borderColor: '#ff0000', borderWidth: 1.2, fill: false, parsing: false, normalized: true },
        { label: 'Mean Ps error ± two std. devs.', data: bandHi, borderColor: 'rgba(0,0,0,0)', borderWidth: 0,
          backgroundColor: BAND_FILL, fill: '+1', cubicInterpolationMode: 'monotone', parsing: false, normalized: true },
        { label: 'lower', data: bandLo, borderColor: 'rgba(0,0,0,0)', borderWidth: 0, fill: false, parsing: false, normalized: true }
      ]
    },
    options: {
      responsive: false,
      animation: false,
      devicePixelRatio: 1,
      events: [],
      layout: { padding: { top: top, bottom: padBottom, left: 0, right: 15 } },
      elements: { point: { radius: 0 }, line: { tension: 0 } },
      plugins: {
        legend: { display: false },
        tooltip: { enabled: false },
        axesFrame: { component: component }
      },
      scales: {
        x: {
          type: 'linear', min: 0, max: 18,
          grid: { display: false }, border: { display: false },
          afterBuildTicks: s => { s.ticks = tTicks.map(v => ({ value: v })); },
          afterFit: s => { s.height = xAxisH; },
          ticks: { display: isLast, color: INK, font: { family: SANS, size: 18 }, padding: 3, maxRotation: 0, autoSkip: false }
        },
        y: {
          type: 'logarithmic', min: Y_MIN, max: Y_MAX,
          grid: { display: false }, border: { display: false },
          ticks: { display: false },
          afterFit: s => { s.width = 80; }
        }
      }
    },
    plugins: isLast ? [axesFrame, legendBox] : [axesFrame]
  });
}

makePanel('panel1', 1, u1Mean, u1MeanEarly, u1P, u1PEarly, u1Band, 12, 118, false);
makePanel('panel2', 2, u2Mean, u2MeanEarly, u2P, u2PEarly, u2Band, 162, 268, false);
makePanel('panel3', 3, u3Mean, u3MeanEarly, u3P, u3PEarly, u3Band, 311, 418, true);
</script>
</body>
</html>
